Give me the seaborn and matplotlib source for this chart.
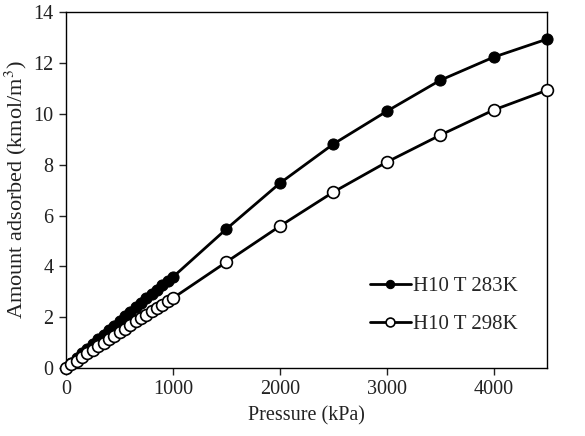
import numpy as np
import pandas as pd
import matplotlib
matplotlib.use('Agg')
import matplotlib.pyplot as plt
import seaborn as sns

# ---- data ----
pressure = [0, 50, 100, 150, 200, 250, 300, 350, 400, 450, 500, 550, 600, 650,
            700, 750, 800, 850, 900, 950, 1000, 1500, 2000, 2500, 3000, 3500,
            4000, 4500]

ads_283 = [0.0, 0.19, 0.38, 0.57, 0.76, 0.94, 1.13, 1.31, 1.49, 1.67, 1.85,
           2.03, 2.21, 2.39, 2.56, 2.74, 2.91, 3.08, 3.25, 3.42, 3.58,
           5.47, 7.27, 8.81, 10.10, 11.32, 12.23, 12.94]

ads_298 = [0.0, 0.14, 0.29, 0.43, 0.57, 0.71, 0.85, 0.99, 1.13, 1.27, 1.41,
           1.55, 1.69, 1.83, 1.96, 2.10, 2.23, 2.36, 2.49, 2.62, 2.75,
           4.17, 5.58, 6.92, 8.10, 9.16, 10.15, 10.93]

labels = ['H10 T 283K', 'H10 T 298K']

df = pd.DataFrame({'P': pressure * 2,
                   'q': ads_283 + ads_298,
                   'series': [labels[0]] * len(pressure) + [labels[1]] * len(pressure)})

sns.set_style('ticks')
plt.rcParams['font.family'] = ['Liberation Serif', 'DejaVu Serif']
plt.rcParams['mathtext.fontset'] = 'stix'

fig = plt.figure(figsize=(5.85, 4.36), dpi=100)
ax = fig.add_axes([0.113, 0.156, 0.822, 0.816])

# filled markers
sns.lineplot(data=df[df.series == labels[0]], x='P', y='q', ax=ax,
             color='black', linewidth=2.0, marker='o', markersize=8.0,
             markerfacecolor='black', markeredgecolor='black',
             label=labels[0], clip_on=False, zorder=3)
# open markers
sns.lineplot(data=df[df.series == labels[1]], x='P', y='q', ax=ax,
             color='black', linewidth=2.0, marker='o', markersize=8.5,
             markerfacecolor='white', markeredgecolor='black',
             markeredgewidth=1.2, label=labels[1], clip_on=False, zorder=3)

ax.set_xlim(0, 4500)
ax.set_ylim(0, 14)
ax.set_xticks([0, 1000, 2000, 3000, 4000])
ax.set_yticks(range(0, 15, 2))
ax.tick_params(axis='both', labelsize=14.5, length=5, width=1, direction='out',
               colors='#222222', pad=4)
for s in ax.spines.values():
    s.set_linewidth(1.0)
    s.set_color('black')

ax.set_xlabel('Pressure (kPa)', fontsize=14.5, color='#222222', labelpad=5)
ax.set_ylabel('Amount adsorbed (kmol/m$^{3}$)', fontsize=16, color='#222222',
              labelpad=3)

ax.legend(loc='upper left', bbox_to_anchor=(0.632, 0.257), frameon=False,
          fontsize=15, handlelength=1.95, handletextpad=0.1, labelspacing=0.9,
          borderpad=0, borderaxespad=0, markerscale=0.75)

fig.savefig('out.png', dpi=100)
